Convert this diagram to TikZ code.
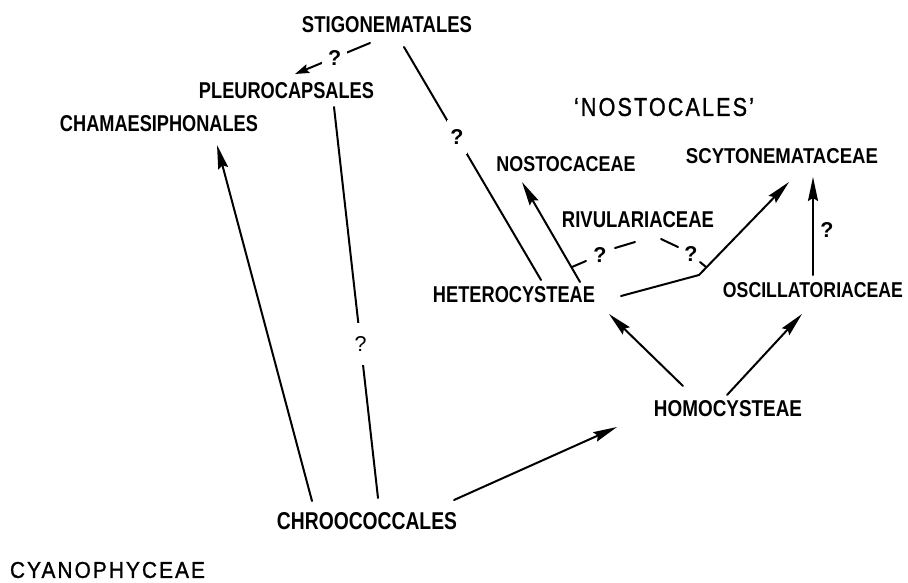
\documentclass[tikz,border=0pt]{standalone}
\usepackage{fontspec}
\setmainfont{Liberation Sans}
\usetikzlibrary{arrows.meta}
% set a label to an exact width and cap height
\newcommand{\fitlabel}[3]{\resizebox{#1pt}{#2pt}{#3}}
\newcommand{\qmark}{\resizebox{!}{15pt}{?}}

\tikzset{
  taxon/.style={inner sep=0pt, font=\bfseries},
  grouplabel/.style={inner sep=0pt, font=\mdseries\addfontfeature{LetterSpace=10,FakeBold=1.2}},
  link/.style={line width=2pt, line cap=round},
  arr/.style={link, -{Stealth[length=24pt,width=10pt,inset=3pt]}},
  smallarr/.style={link, -{Stealth[length=14pt,width=9pt,inset=2pt]}},
  doubt/.style={inner sep=0pt, font=\bfseries},
  gapdoubt/.style={doubt, fill=white},
}

\begin{document}
\begin{tikzpicture}[x=1pt, y=-1pt]
\useasboundingbox (0,0) rectangle (908,582);

% taxa
\node[taxon] (stig)     at (387,25)    {\fitlabel{170}{16}{STIGONEMATALES}};
\node[taxon] (pleuro)   at (286.5,91)  {\fitlabel{175}{16}{PLEUROCAPSALES}};
\node[taxon] (chama)    at (159,123.5) {\fitlabel{198}{16}{CHAMAESIPHONALES}};
\node[grouplabel] (nostocales) at (664,107) {\fitlabel{180}{18}{‘NOSTOCALES’}};
\node[taxon] (nostocac) at (566,164.5) {\fitlabel{139}{15}{NOSTOCACEAE}};
\node[taxon] (scyt)     at (782,156.5) {\fitlabel{192}{15}{SCYTONEMATACEAE}};
\node[taxon] (rivul)    at (638,220)   {\fitlabel{152}{16}{RIVULARIACEAE}};
\node[taxon] (hetero)   at (514,295)   {\fitlabel{162}{16}{HETEROCYSTEAE}};
\node[taxon] (osc)      at (813,290.5) {\fitlabel{180}{15}{OSCILLATORIACEAE}};
\node[taxon] (homo)     at (728,409)   {\fitlabel{148}{16}{HOMOCYSTEAE}};
\node[taxon] (chroo)    at (367,521)   {\fitlabel{180}{17}{CHROOCOCCALES}};
\node[grouplabel] (cyano) at (107.5,570) {\fitlabel{195}{16}{CYANOPHYCEAE}};

% doubtful links, broken by a question mark
\draw[smallarr] ([shift={(-17,18)}]stig.center) -- ([shift={(8.5,-17)}]pleuro.center)
  node[gapdoubt, pos=0.47, minimum width=25pt, minimum height=16pt] (q1) {\qmark};
\draw[link] ([shift={(17,22)}]stig.center) -- ([shift={(27,-15)}]hetero.center)
  node[gapdoubt, pos=0.386, minimum width=20pt, minimum height=34pt] (q2) {\qmark};
\draw[link] ([shift={(47.5,16)}]pleuro.center) -- ([shift={(11,-23)}]chroo.center)
  node[gapdoubt, pos=0.606, minimum width=14pt, minimum height=42pt, font=\mdseries] (q3) {\qmark};

% firm links
\draw[arr] ([shift={(-55,-20)}]chroo.center) -- ([shift={(58,21.5)}]chama.center);
\draw[arr] ([shift={(87,-21)}]chroo.center) -- ([shift={(-111,18)}]homo.center);
\draw[arr] ([shift={(-45,-23)}]homo.center) -- ([shift={(95,19)}]hetero.center);
\draw[arr] ([shift={(-1,-14)}]homo.center) -- ([shift={(-11,23.5)}]osc.center);
\draw[arr] ([shift={(66,-13)}]hetero.center) -- ([shift={(-44,17.5)}]nostocac.center);
\coordinate (bend) at ([shift={(185,-20)}]hetero.center);
\draw[arr] ([shift={(107,1)}]hetero.center) -- (bend) -- ([shift={(7,25.5)}]scyt.center);
\draw[arr] ([shift={(0,-15.5)}]osc.center) -- ([shift={(31,20.5)}]scyt.center);
\node[doubt] (q4) at (827,230) {\qmark};

% Rivulariaceae: dashed branch between the two lines
\coordinate (rl0) at (572,267);
\coordinate (rl1) at (586,261);
\coordinate (rl2) at (615,248);
\coordinate (rl3) at (635,242);
\coordinate (rr3) at (661,239);
\coordinate (rr2) at (678,247);
\coordinate (rr1) at (700,262);
\coordinate (rr0) at (706,267);
\draw[link] (rl0) -- (rl1) (rl2) -- (rl3) (rr3) -- (rr2) (rr1) -- (rr0);
\node[doubt] (q5) at (600,255) {\qmark};
\node[doubt] (q6) at (691,254) {\qmark};
\end{tikzpicture}
\end{document}
